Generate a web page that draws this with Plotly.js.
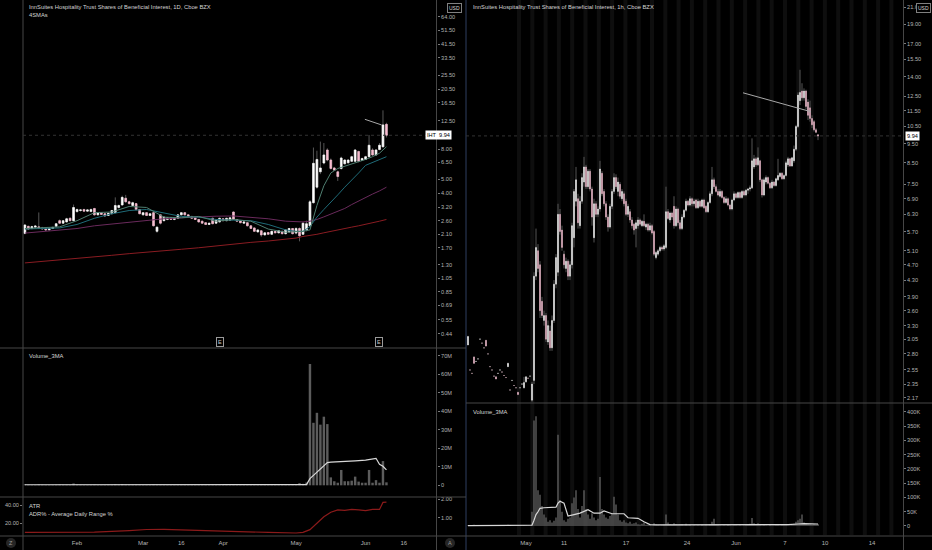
<!DOCTYPE html>
<html><head><meta charset="utf-8">
<script src="https://cdn.plot.ly/plotly-3.0.1.min.js"></script>
<style>html,body{margin:0;padding:0;background:#000;}#chart{width:932px;height:550px;}</style>
</head><body><div id="chart"></div>
<script>
// ---------- Daily chart (1D) ----------
const dDates = [
'2021-01-08','2021-01-11','2021-01-12','2021-01-13','2021-01-14','2021-01-15','2021-01-19','2021-01-20','2021-01-21','2021-01-22','2021-01-25','2021-01-26','2021-01-27','2021-01-28','2021-01-29',
'2021-02-01','2021-02-02','2021-02-03','2021-02-04','2021-02-05','2021-02-08','2021-02-09','2021-02-10','2021-02-11','2021-02-12','2021-02-16','2021-02-17','2021-02-18','2021-02-19','2021-02-22','2021-02-23','2021-02-24','2021-02-25','2021-02-26',
'2021-03-01','2021-03-02','2021-03-03','2021-03-04','2021-03-05','2021-03-08','2021-03-09','2021-03-10','2021-03-11','2021-03-12','2021-03-15','2021-03-16','2021-03-17','2021-03-18','2021-03-19','2021-03-22','2021-03-23','2021-03-24','2021-03-25','2021-03-26','2021-03-29','2021-03-30','2021-03-31',
'2021-04-01','2021-04-05','2021-04-06','2021-04-07','2021-04-08','2021-04-09','2021-04-12','2021-04-13','2021-04-14','2021-04-15','2021-04-16','2021-04-19','2021-04-20','2021-04-21','2021-04-22','2021-04-23','2021-04-26','2021-04-27','2021-04-28','2021-04-29','2021-04-30',
'2021-05-03','2021-05-04','2021-05-05','2021-05-06','2021-05-07','2021-05-10','2021-05-11','2021-05-12','2021-05-13','2021-05-14','2021-05-17','2021-05-18','2021-05-19','2021-05-20','2021-05-21','2021-05-24','2021-05-25','2021-05-26','2021-05-27','2021-05-28',
'2021-06-01','2021-06-02','2021-06-03','2021-06-04','2021-06-07','2021-06-08','2021-06-09'];
const dOpen = [2.13,2.38,2.30,2.35,2.36,2.32,2.29,2.25,2.30,2.38,2.60,2.50,2.55,2.70,2.60,
3.00,3.05,3.10,3.02,3.00,3.15,2.85,2.95,2.90,2.82,2.90,2.95,3.20,3.33,3.70,3.50,3.30,3.40,3.10,
2.85,2.95,2.82,2.95,2.20,2.85,2.60,2.65,2.72,2.65,2.70,2.85,2.95,2.85,2.78,2.72,2.65,2.58,2.52,2.45,2.70,2.50,2.55,
2.68,2.60,2.62,2.98,2.65,2.60,2.50,2.52,2.40,2.32,2.18,2.22,2.08,2.16,2.10,2.20,2.15,2.20,2.12,2.18,2.30,
2.14,2.30,2.10,2.25,2.40,3.45,4.40,5.60,6.43,7.89,6.74,5.95,5.60,5.90,6.35,6.45,6.60,6.60,7.70,6.70,
6.80,7.10,7.89,7.30,7.95,8.30,11.80];
const dHigh = [2.46,2.40,2.40,2.42,2.96,2.36,2.31,2.32,2.36,2.50,2.65,2.62,2.72,2.74,3.35,
3.15,3.12,3.14,3.12,3.15,3.18,2.98,2.97,2.92,2.95,3.08,3.75,3.35,3.85,3.90,3.55,3.50,3.42,3.12,
2.98,2.97,2.93,2.97,2.37,2.88,2.78,2.74,2.74,2.72,2.87,2.98,2.97,2.87,2.80,2.74,2.67,2.60,2.54,2.52,2.72,2.64,2.72,
2.70,2.72,2.75,3.00,2.67,2.62,2.57,2.54,2.42,2.34,2.27,2.24,2.17,2.18,2.22,2.22,2.24,2.22,2.27,2.32,2.32,
2.35,2.34,2.55,2.60,3.60,8.20,7.80,9.00,8.80,8.10,6.90,6.05,5.70,7.10,6.85,6.80,7.20,8.00,7.80,7.00,
7.20,9.99,8.10,8.00,8.80,14.70,12.10];
const dLow = [2.10,2.25,2.27,2.30,2.28,2.26,2.22,2.23,2.28,2.36,2.48,2.48,2.53,2.58,2.58,
2.95,3.00,2.98,3.00,2.98,2.82,2.83,2.85,2.78,2.80,2.88,2.93,3.15,3.30,3.45,3.35,3.28,3.05,2.88,
2.83,2.80,2.80,2.38,2.15,2.45,2.58,2.62,2.63,2.62,2.68,2.83,2.83,2.76,2.68,2.63,2.53,2.48,2.43,2.43,2.46,2.48,2.53,
2.58,2.58,2.60,2.63,2.56,2.50,2.48,2.38,2.28,2.18,2.16,2.02,2.06,2.08,2.08,2.13,2.13,2.10,2.10,2.16,2.10,
2.10,1.88,2.08,2.20,2.35,3.40,4.30,5.40,6.30,6.60,5.80,5.70,4.85,5.80,6.30,6.40,6.55,6.55,6.50,6.65,
6.75,7.00,7.20,7.20,7.85,8.20,9.60];
const dClose = [2.43,2.28,2.37,2.39,2.32,2.29,2.25,2.30,2.34,2.48,2.50,2.60,2.68,2.60,3.20,
3.10,3.08,3.02,3.08,3.10,2.85,2.95,2.87,2.80,2.92,3.05,3.30,3.30,3.75,3.50,3.40,3.45,3.10,2.90,
2.95,2.82,2.90,2.40,2.35,2.50,2.75,2.72,2.65,2.70,2.85,2.95,2.85,2.78,2.70,2.65,2.55,2.50,2.45,2.50,2.48,2.62,2.70,
2.60,2.70,2.72,2.65,2.58,2.52,2.55,2.40,2.30,2.20,2.25,2.08,2.15,2.10,2.20,2.15,2.22,2.12,2.25,2.30,2.12,
2.30,2.05,2.50,2.48,3.50,6.40,6.80,5.95,7.30,6.74,5.90,5.75,5.20,6.96,6.74,6.74,7.10,7.89,6.60,6.90,
7.10,8.50,7.30,7.89,8.50,11.70,9.94];
// volume in millions
const dVolume = [0.6,0.3,0.2,0.2,0.5,0.3,0.2,0.2,0.2,0.3,0.4,0.3,0.3,0.2,1.0,
0.4,0.3,0.2,0.2,0.3,0.4,0.2,0.2,0.2,0.3,0.3,0.6,0.3,0.7,0.4,0.3,0.3,0.4,0.3,
0.2,0.2,0.2,0.5,0.4,0.4,0.3,0.2,0.2,0.2,0.3,0.3,0.2,0.2,0.2,0.2,0.2,0.2,0.2,0.2,0.3,0.2,0.2,
0.2,0.2,0.2,0.4,0.2,0.2,0.2,0.2,0.2,0.3,0.2,0.3,0.2,0.2,0.2,0.2,0.2,0.2,0.2,0.3,0.2,
0.5,1.2,0.8,1.5,65.6,33.8,39.2,32.8,37.1,33.1,4.3,2.2,1.4,8.3,2.2,2.2,2.5,4.7,2.0,1.4,
1.4,8.3,1.4,2.8,1.4,13.1,1.6];
const dVolMaIdx = [0,20,40,60,78,81,82,83,84,85,86,87,88,90,92,95,98,100,101,102,103,104];
const dVolMa    = [0.3,0.3,0.3,0.25,0.25,0.4,3.6,5.3,7.2,8.8,10.6,12.3,12.5,12.6,12.8,13.2,13.6,14.2,14.6,11.4,10.3,8.3];
const smaIdx = [0,5,10,15,20,25,30,35,40,45,50,55,60,65,70,75,78,80,82,84,86,88,90,92,94,96,98,100,102,104];
const smaFast = [2.30,2.33,2.36,2.60,2.95,2.98,3.25,3.20,2.75,2.72,2.78,2.58,2.65,2.58,2.28,2.17,2.19,2.20,2.25,3.30,4.50,5.50,5.90,6.10,6.30,6.50,6.80,7.10,7.50,8.30];
const smaMid  = [2.28,2.30,2.32,2.45,2.70,2.90,3.05,3.10,2.95,2.78,2.75,2.65,2.62,2.60,2.45,2.25,2.20,2.20,2.37,2.75,3.10,3.45,3.90,4.40,4.90,5.50,6.20,6.50,6.80,7.10];
const smaSlow = [2.14,2.19,2.25,2.30,2.40,2.47,2.55,2.60,2.68,2.72,2.76,2.79,2.80,2.75,2.68,2.58,2.55,2.55,2.58,2.65,2.76,2.88,3.00,3.15,3.35,3.55,3.75,3.95,4.15,4.40];
const smaLong = [1.34,1.37,1.41,1.44,1.47,1.51,1.55,1.58,1.62,1.66,1.70,1.75,1.81,1.85,1.89,1.95,1.98,2.03,2.06,2.10,2.15,2.20,2.27,2.31,2.35,2.40,2.45,2.51,2.58,2.65];
const atrIdx = [0,10,20,30,35,40,50,60,70,78,80,82,84,86,88,90,92,94,96,98,100,102,103,104];
const atrVal = [0.20,0.20,0.22,0.30,0.36,0.37,0.30,0.25,0.20,0.17,0.20,0.35,0.70,1.05,1.30,1.42,1.40,1.45,1.42,1.38,1.45,1.45,1.83,1.85];
const dTrendDates = ['2021-06-01 07:00','2021-06-08 02:30'];
const dTrendPrice = [12.77,11.69];
const dEarnings = ['2021-03-31','2021-06-07'];
const dHolidays = ['2021-01-18','2021-02-15','2021-04-02','2021-05-31'];
const dTickDates = ['2021-02-01','2021-03-01','2021-03-16','2021-04-01','2021-05-03','2021-06-01','2021-06-16'];
const dTickText = ['Feb','Mar','16','Apr','May','Jun','16'];
const dPriceTicks = [64,51.5,41.5,33.5,25.5,20.5,16.5,12.5,8,6.5,5,4,3.2,2.6,2.1,1.7,1.3,1.05,0.85,0.69,0.55,0.44];
const dVolTicks = [0,10,20,30,40,50,60,70];
const dVolTickText = ['0','10M','20M','30M','40M','50M','60M','70M'];

// ---------- Hourly chart (1h), bar index ----------
const hOpen = [2.95,2.55,2.50,2.75,2.68,2.72,3.05,2.98,2.90,3.03,2.80,2.60,2.55,2.46,2.45,2.50,2.55,2.52,2.47,2.44,2.60,2.27,2.40,2.33,2.30,2.24,2.30,2.35,2.30,2.38,2.43,2.46,
2.14,2.40,4.40,5.10,4.70,3.80,3.40,3.50,3.00,3.20,2.90,3.40,4.20,4.50,6.30,5.75,5.00,4.60,4.80,4.40,
4.70,5.50,6.80,6.90,5.90,6.80,7.60,8.30,7.40,8.10,7.30,5.50,6.70,6.30,6.50,8.00,7.20,6.70,6.20,5.85,
6.60,7.20,7.80,7.20,7.50,6.90,7.10,6.80,6.30,6.40,6.10,5.95,5.80,5.90,6.10,5.90,6.05,5.85,5.95,5.75,
5.90,5.70,4.90,5.00,5.10,5.20,5.15,5.20,6.40,6.10,6.35,6.60,5.90,6.50,6.00,5.80,6.20,6.45,6.80,6.65,
6.90,6.70,6.85,6.55,6.80,6.60,6.85,6.60,6.40,6.75,7.10,7.70,7.40,7.20,7.00,7.20,6.95,6.75,6.90,6.65,
6.50,6.85,7.10,6.95,7.15,6.95,7.20,7.05,7.25,7.30,7.35,8.30,8.70,8.40,8.60,7.70,7.05,7.60,7.80,7.55,
7.35,7.60,7.45,7.70,7.85,8.00,7.75,7.90,8.40,8.70,8.35,8.60,9.20,10.50,12.20,12.90,12.40,12.90,12.10,11.70,
11.00,10.80,10.30,10.00];
const hHigh = [3.10,2.55,2.50,2.76,2.68,2.72,3.05,2.98,2.90,3.03,2.80,2.60,2.55,2.46,2.45,2.50,2.55,2.52,2.47,2.44,2.66,2.27,2.40,2.33,2.30,2.24,2.30,2.35,2.45,2.46,2.43,2.46,
2.38,4.50,5.80,5.30,4.80,3.90,3.60,3.55,3.40,3.30,3.50,4.30,5.00,6.70,6.50,5.90,5.10,4.90,4.85,4.80,
6.00,7.30,8.30,7.10,7.00,8.00,8.80,8.40,8.20,8.20,7.40,6.90,6.80,6.60,8.60,8.10,7.30,6.80,6.30,6.70,
7.30,8.00,7.95,7.80,7.60,7.30,7.20,6.90,6.70,6.50,6.20,6.00,6.10,6.20,6.15,6.10,6.30,6.00,6.00,6.00,
5.95,5.75,5.10,5.15,5.25,5.25,5.30,7.40,6.50,6.40,6.40,7.00,6.60,6.55,6.10,6.30,6.50,6.90,6.85,7.00,
6.95,6.90,6.90,6.90,6.85,6.90,6.90,6.65,6.80,7.20,8.30,7.80,7.50,7.30,7.30,7.25,7.00,7.00,6.95,6.70,
6.90,7.20,7.15,7.20,7.20,7.25,7.25,7.30,7.35,7.45,9.80,8.90,8.80,9.30,8.65,7.75,7.80,7.90,7.85,7.60,
7.70,7.65,7.80,8.70,8.05,8.05,7.95,8.60,8.80,8.75,8.80,9.40,10.60,12.80,14.60,13.50,13.10,13.00,12.30,12.20,
11.20,10.90,10.40,10.05];
const hLow = [2.95,2.55,2.50,2.65,2.68,2.72,3.05,2.98,2.90,2.93,2.80,2.60,2.55,2.46,2.42,2.50,2.55,2.52,2.47,2.44,2.60,2.27,2.40,2.33,2.30,2.21,2.30,2.35,2.29,2.37,2.43,2.46,
2.12,2.35,4.30,4.50,3.45,3.45,3.30,3.00,2.95,2.85,2.85,3.35,4.10,4.40,5.60,5.10,4.60,4.50,4.30,4.30,
4.60,5.20,6.60,5.80,5.80,6.70,7.40,7.30,7.30,7.20,5.90,5.35,6.20,6.20,6.40,7.00,6.60,6.10,5.70,5.80,
6.50,7.10,7.30,7.00,6.90,6.80,6.60,6.25,6.20,6.00,5.80,5.60,5.20,5.80,5.90,5.85,5.85,5.75,5.70,5.70,
5.60,4.95,4.85,4.95,5.05,5.10,5.10,5.15,6.10,6.00,6.10,5.80,5.85,5.90,5.75,5.75,6.15,6.40,6.60,6.60,
6.60,6.60,6.50,6.50,6.55,6.55,6.50,6.35,6.35,6.70,7.00,7.30,7.15,7.00,6.95,6.90,6.70,6.70,6.60,6.45,
6.45,6.80,6.90,6.90,6.90,6.90,7.00,7.00,7.10,7.20,7.30,8.20,8.30,8.35,7.60,6.95,7.00,7.50,7.50,7.30,
7.30,7.40,7.40,7.65,7.80,7.70,7.70,7.85,8.30,8.30,8.30,8.50,9.10,10.40,11.90,12.20,12.20,11.60,10.90,10.80,
10.40,10.20,10.10,9.70];
const hClose = [3.10,2.55,2.50,2.65,2.68,2.72,3.05,2.98,2.90,2.93,2.80,2.60,2.55,2.46,2.42,2.50,2.55,2.52,2.47,2.44,2.65,2.27,2.40,2.33,2.30,2.21,2.30,2.35,2.37,2.45,2.43,2.46,
2.35,4.40,5.20,4.60,3.60,3.50,3.50,3.05,3.30,2.90,3.40,4.20,4.90,6.30,5.70,5.20,4.70,4.80,4.40,4.70,
5.90,7.20,7.70,6.00,6.80,7.80,8.30,7.40,8.10,7.30,6.20,6.70,6.30,6.50,8.20,7.10,6.70,6.20,5.85,6.60,
7.20,7.80,7.40,7.60,7.00,7.20,6.70,6.30,6.60,6.10,5.90,5.75,6.00,6.10,5.95,6.05,5.90,5.95,5.75,5.90,
5.65,5.00,5.05,5.10,5.20,5.15,5.25,6.40,6.15,6.35,6.20,5.90,6.50,6.00,5.80,6.20,6.45,6.80,6.65,6.90,
6.70,6.80,6.55,6.80,6.60,6.85,6.55,6.40,6.75,7.10,7.70,7.40,7.20,7.05,7.20,6.95,6.75,6.90,6.65,6.50,
6.85,7.10,6.95,7.15,6.95,7.20,7.05,7.25,7.30,7.35,8.60,8.70,8.40,8.75,7.70,7.05,7.70,7.80,7.55,7.35,
7.60,7.45,7.75,7.90,8.00,7.75,7.90,8.50,8.70,8.35,8.75,9.20,10.50,12.60,12.80,12.40,12.90,11.80,11.20,11.00,
10.60,10.30,10.15,9.94];
// hourly volume in thousands
const hVolume = [3,1,1,4,1,1,2,1,1,3,1,1,1,2,2,1,1,1,1,1,4,1,1,1,1,2,1,1,3,2,1,1,
50,370,385,125,110,70,40,30,15,20,12,18,30,320,90,50,20,15,25,30,
80,100,125,60,30,70,125,60,40,25,45,30,20,25,172,60,40,30,25,35,
45,103,75,40,20,15,20,12,10,15,8,10,12,6,5,8,12,4,5,6,
3,10,5,3,2,3,4,40,12,6,4,10,6,4,5,6,3,8,
3,4,2,3,2,3,2,4,3,5,3,6,15,25,6,4,3,2,3,2,
4,3,2,3,3,2,3,2,3,4,5,8,28,10,6,10,4,3,6,3,
2,4,3,3,4,5,3,4,6,5,3,3,4,8,15,20,25,40,12,8,
6,5,4,6,5,7];
const hVolMaIdx = [0,31,32,33,34,35,36,38,44,45,46,48,50,53,56,60,63,66,68,72,78,80,85,88,91,95,120,140,160,165,168,175];
const hVolMa    = [1,1,3,20,40,50,62,64,66,80,87,80,35,40,45,57,45,45,53,43,43,29,27,15,5,4,4,4,5,7,8,7];
const hTrendBar = [137.5,171.5];
const hTrendPrice = [12.77,11.44];
const hTickPos = [29,48,79,109.5,134,158.5,178.5,202];
const hTickText = ['May','11','17','24','Jun','7','10','14'];
const hPriceTicks = [21,19,17,15.5,14,12.5,11.5,10.5,9.5,8.5,7.5,6.9,6.3,5.7,5.1,4.7,4.3,3.9,3.6,3.3,3.05,2.8,2.55,2.35,2.17];
const hVolTicks = [0,50,100,150,200,250,300,350,400];
const hVolTickText = ['0','50K','100K','150K','200K','250K','300K','350K','400K'];

// ---------- styling ----------
const W = 932, H = 550;
const px = v => v / W, py = v => 1 - v / H;
const FONT = 'Liberation Sans, Arial, sans-serif';
const WHITE = '#ffffff', PINK = '#f8bcd0', WICK = '#555555';
const TXT = '#d4d4d4', TICK = '#b4b4b4', SEP = '#464646';
const noon = d => d + ' 12:00';
const dX = dDates.map(noon);
const hX = hOpen.map((_, k) => k);
const lastClose = dClose[dClose.length - 1];
const bodyTop = (o, c) => o.map((v, i) => Math.max(v, c[i]));
const bodyBot = (o, c) => o.map((v, i) => Math.min(v, c[i]));

function candles(x, o, h, l, c, xa, ya, bw) {
  const wick = {type:'candlestick', x, open:o, high:h, low:l, close:c, xaxis:xa, yaxis:ya,
    whiskerwidth:0, hoverinfo:'skip', showlegend:false,
    increasing:{line:{color:WICK, width:1}, fillcolor:WICK},
    decreasing:{line:{color:WICK, width:1}, fillcolor:WICK}};
  const body = {type:'candlestick', x, open:o, close:c, high:bodyTop(o,c), low:bodyBot(o,c), xaxis:xa, yaxis:ya,
    whiskerwidth:0, hoverinfo:'skip', showlegend:false,
    increasing:{line:{color:WHITE, width:bw}, fillcolor:WHITE},
    decreasing:{line:{color:PINK, width:bw}, fillcolor:PINK}};
  return [wick, body];
}
const line = (x, y, xa, ya, color, w) => ({type:'scatter', mode:'lines', x, y, xaxis:xa, yaxis:ya,
  line:{color, width:w || 1}, hoverinfo:'skip', showlegend:false});

const traces = [];
traces.push(line(smaIdx.map(i => dX[i]), smaLong, 'x', 'y', '#8a1c22', 1));
traces.push(line(smaIdx.map(i => dX[i]), smaSlow, 'x', 'y', '#6a2a5c', 1));
traces.push(line(smaIdx.map(i => dX[i]), smaMid, 'x', 'y', '#1f6b78', 1));
traces.push(line(smaIdx.map(i => dX[i]), smaFast, 'x', 'y', '#4f7e70', 1));
traces.push(...candles(dX, dOpen, dHigh, dLow, dClose, 'x', 'y', 0.6));
traces.push(line(dTrendDates, dTrendPrice, 'x', 'y', '#a8a8a8', 1));
traces.push({type:'bar', x:dX, y:dVolume, xaxis:'x2', yaxis:'y2', marker:{color:'#5c5c5c'}, hoverinfo:'skip', showlegend:false});
traces.push(line(dVolMaIdx.map(i => dX[i]), dVolMa, 'x2', 'y2', '#d8d8d8', 1.2));
traces.push(line(atrIdx.map(i => dX[i]), atrVal, 'x3', 'y3', '#8b1a1a', 1.2));
traces.push({type:'scatter', mode:'lines', x:[dX[0]], y:[20], xaxis:'x3', yaxis:'y6', opacity:0, hoverinfo:'skip', showlegend:false});
traces.push(...candles(hX, hOpen, hHigh, hLow, hClose, 'x4', 'y4', 0.3));
traces.push(line(hTrendBar, hTrendPrice, 'x4', 'y4', '#a8a8a8', 1));
traces.push({type:'bar', x:hX, y:hVolume, xaxis:'x5', yaxis:'y5', marker:{color:'#5c5c5c'}, hoverinfo:'skip', showlegend:false});
traces.push(line(hVolMaIdx, hVolMa, 'x5', 'y5', '#d8d8d8', 1.2));

const rb = [{bounds:['sat','mon']}, {values:dHolidays}];
const dRange = ['2021-01-07 23:00','2021-06-30 01:00'];
const baseAx = {showgrid:false, zeroline:false, showline:false, fixedrange:true};
const tickF = {family:FONT, size:5.6, color:TICK};
const xD = (anchor, labels) => Object.assign({}, baseAx, {type:'date', domain:[px(23), px(437)], anchor,
  range:dRange, rangebreaks:rb, rangeslider:{visible:false},
  showticklabels:labels, tickvals:dTickDates.map(noon), ticktext:dTickText, ticks:'', ticklabelstandoff:3,
  tickfont:{family:FONT, size:6, color:TICK}});
const xH = (anchor, labels) => Object.assign({}, baseAx, {type:'linear', domain:[px(466), px(903)], anchor,
  range:[-1, 217.5], rangeslider:{visible:false},
  showticklabels:labels, tickvals:hTickPos, ticktext:hTickText, ticks:'', ticklabelstandoff:3,
  tickfont:{family:FONT, size:6, color:TICK}});
const yAx = (o) => Object.assign({}, baseAx, {side:'right', ticks:'outside', ticklen:2, tickwidth:1, tickcolor:'#7a7a7a', tickfont:tickF}, o);

// extended-hours session shading on the hourly chart (background decoration)
const stripes = [];
for (let s = 24.5; s < 216; s += 6.65) {
  stripes.push({type:'rect', xref:'x4', yref:'paper', x0:s, x1:s + 2, y0:py(535), y1:1,
    fillcolor:'#0e0e0e', line:{width:0}, layer:'below'});
}

const layout = {
  width:W, height:H, margin:{l:0, r:0, t:0, b:0},
  paper_bgcolor:'#000', plot_bgcolor:'#000', showlegend:false, hovermode:false, dragmode:false,
  bargap:0.3, font:{family:FONT, color:TXT},
  xaxis: xD('y', false), xaxis2: xD('y2', false), xaxis3: xD('y3', true),
  xaxis4: xH('y4', false), xaxis5: xH('y5', true),
  yaxis: yAx({domain:[py(347), 1], anchor:'x', type:'log', range:[Math.log10(0.358), Math.log10(83.1)],
    tickvals:dPriceTicks, ticktext:dPriceTicks.map(v => v.toFixed(2))}),
  yaxis2: yAx({domain:[py(496), py(349)], anchor:'x2', range:[-5.78, 73.7], tickvals:dVolTicks, ticktext:dVolTickText}),
  yaxis3: yAx({domain:[py(535), py(497)], anchor:'x3', range:[0.06, 2.125], tickvals:[1,2], ticktext:['1.00','2.00']}),
  yaxis6: yAx({overlaying:'y3', anchor:'x3', side:'left', range:[6.7, 48.9], tickvals:[20,40], ticktext:['20.00','40.00']}),
  yaxis4: yAx({domain:[py(402), 1], anchor:'x4', type:'log', range:[Math.log10(2.117), Math.log10(21.9)],
    tickvals:hPriceTicks, ticktext:hPriceTicks.map(v => v.toFixed(2))}),
  yaxis5: yAx({domain:[py(535), py(404)], anchor:'x5', range:[-31.6, 428], tickvals:hVolTicks, ticktext:hVolTickText}),
  shapes: stripes.concat([
    {type:'line', xref:'paper', yref:'paper', x0:px(23), x1:px(23), y0:0, y1:1, line:{color:SEP, width:1}},
    {type:'line', xref:'paper', yref:'paper', x0:px(436.5), x1:px(436.5), y0:0, y1:1, line:{color:SEP, width:1}},
    {type:'line', xref:'paper', yref:'paper', x0:px(466), x1:px(466), y0:0, y1:1, line:{color:'#1f2a40', width:1.5}},
    {type:'line', xref:'paper', yref:'paper', x0:px(903.5), x1:px(903.5), y0:0, y1:1, line:{color:SEP, width:1}},
    {type:'line', xref:'paper', yref:'paper', x0:0, x1:px(466), y0:py(348), y1:py(348), line:{color:SEP, width:1}},
    {type:'line', xref:'paper', yref:'paper', x0:0, x1:px(466), y0:py(497), y1:py(497), line:{color:SEP, width:1}},
    {type:'line', xref:'paper', yref:'paper', x0:0, x1:px(466), y0:py(536), y1:py(536), line:{color:SEP, width:1}},
    {type:'line', xref:'paper', yref:'paper', x0:px(466), x1:1, y0:py(403), y1:py(403), line:{color:SEP, width:1}},
    {type:'line', xref:'paper', yref:'paper', x0:px(466), x1:1, y0:py(536), y1:py(536), line:{color:SEP, width:1}},
    {type:'line', xref:'paper', yref:'y', x0:px(23), x1:px(437), y0:lastClose, y1:lastClose, line:{color:'#333333', width:1, dash:'dot'}},
    {type:'line', xref:'paper', yref:'y4', x0:px(466), x1:px(903), y0:lastClose, y1:lastClose, line:{color:'#333333', width:1, dash:'dot'}},
    {type:'circle', xref:'paper', yref:'paper', x0:px(6), x1:px(16), y0:py(548), y1:py(538), fillcolor:'#262626', line:{width:0}},
    {type:'circle', xref:'paper', yref:'paper', x0:px(445), x1:px(455), y0:py(548), y1:py(538), fillcolor:'#262626', line:{width:0}}
  ]),
  annotations: []
};
const note = (text, x, y, opts) => Object.assign({text, x:px(x), y:py(y), xref:'paper', yref:'paper', showarrow:false,
  xanchor:'left', yanchor:'middle', font:{family:FONT, size:5.8, color:TXT}}, opts || {});
layout.annotations.push(
  note('InnSuites Hospitality Trust Shares of Beneficial Interest, 1D, Cboe BZX', 27, 7),
  note('4SMAs', 27, 15),
  note('Volume_3MA', 27, 356),
  note('ATR', 27, 505.5),
  note('ADR% - Average Daily Range %', 27, 513.5),
  note('InnSuites Hospitality Trust Shares of Beneficial Interest, 1h, Cboe BZX', 471, 7),
  note('Volume_3MA', 471, 412),
  note('USD', 454, 7.5, {xanchor:'center', bordercolor:'#808080', borderwidth:1, borderpad:1, bgcolor:'#000', font:{family:FONT, size:5, color:TXT}}),
  note('USD', 931, 7.5, {xanchor:'right', bordercolor:'#808080', borderwidth:1, borderpad:1, bgcolor:'#000', font:{family:FONT, size:5, color:TXT}}),
  note('Z', 11, 543, {xanchor:'center', font:{family:FONT, size:5.5, color:'#9a9a9a'}}),
  note('A', 450, 543, {xanchor:'center', font:{family:FONT, size:5.5, color:'#9a9a9a'}}),
  {text:'IHT  ' + lastClose.toFixed(2), xref:'paper', x:px(438), yref:'y', y:Math.log10(lastClose), showarrow:false,
    xanchor:'center', yanchor:'middle', bgcolor:'#ffffff', borderpad:1, font:{family:FONT, size:5.6, color:'#000'}},
  {text:lastClose.toFixed(2), xref:'paper', x:px(905), yref:'y4', y:Math.log10(lastClose), showarrow:false,
    xanchor:'left', yanchor:'middle', bgcolor:'#ffffff', borderpad:1, font:{family:FONT, size:5.6, color:'#000'}}
);
dEarnings.forEach(d => layout.annotations.push({text:'E', xref:'x', x:noon(d), yref:'paper', y:py(342), showarrow:false,
  xanchor:'center', yanchor:'middle', bordercolor:'#9a9a9a', borderwidth:1, borderpad:1, bgcolor:'#000',
  font:{family:FONT, size:5.5, color:'#c8c8c8'}}));

Plotly.newPlot('chart', traces, layout, {staticPlot:true, displayModeBar:false});
</script>
</body></html>
